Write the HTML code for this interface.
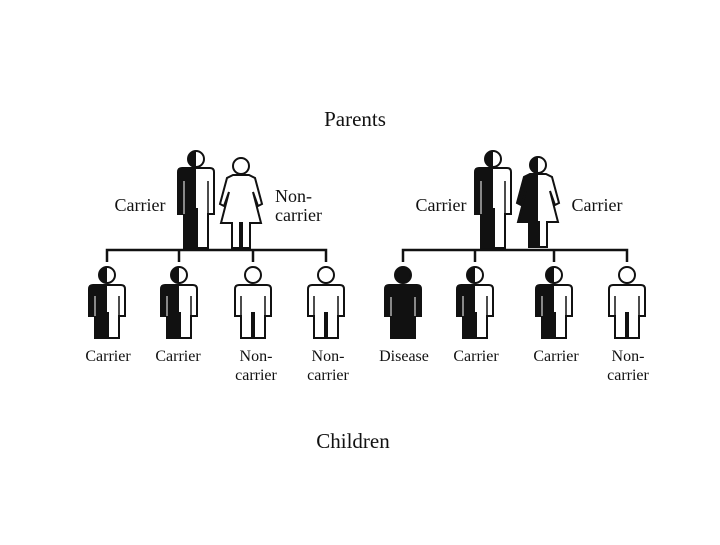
<!DOCTYPE html>
<html><head><style>
body{margin:0;background:#fff;width:720px;height:540px;overflow:hidden}
text{font-family:"Liberation Serif",serif;fill:#111}
</style></head><body>
<svg width="720" height="540" viewBox="0 0 720 540" xmlns="http://www.w3.org/2000/svg">
<defs>
<clipPath id="lh"><rect x="-40" y="-20" width="40" height="120"/></clipPath>
<path id="cm" d="M-14,10 H14 Q18,10 18,14 V41 H12 V63 H1 V38 H-1 V63 H-12 V41 H-18 V14 Q-18,10 -14,10 Z"/>
<path id="pm" d="M-14,9 H14 Q18,9 18,13 V55 H12 V89 H1 V50 H-1 V89 H-12 V55 H-18 V13 Q-18,9 -14,9 Z"/>
<path id="pf" d="M-8,9 H8 L14,12 L21,38 L17,40 L12,26 L20,57 H9 V82 H1 V57 H-1 V82 H-9 V57 H-20 L-12,26 L-17,40 L-21,38 L-14,12 Z"/>
<g id="childW"><use href="#cm" fill="#fff" stroke="#111" stroke-width="2"/><circle r="8" fill="#fff" stroke="#111" stroke-width="2"/><path d="M-12,21V41M12,21V41" stroke="#111" stroke-width="1.5"/></g>
<g id="childH"><use href="#cm" fill="#fff"/><g clip-path="url(#lh)"><use href="#cm" fill="#111"/><circle r="8" fill="#111"/></g><use href="#cm" fill="none" stroke="#111" stroke-width="2"/><circle r="8" fill="none" stroke="#111" stroke-width="2"/><path d="M12,21V41" stroke="#111" stroke-width="1.5"/><path d="M-12,21V41" stroke="#fff" stroke-width="1"/></g>
<g id="childB"><use href="#cm" fill="#111" stroke="#111" stroke-width="2"/><circle r="8" fill="#111" stroke="#111" stroke-width="2"/><path d="M-12,22V41M12,22V41" stroke="#fff" stroke-width="1"/></g>
<g id="parentH"><use href="#pm" fill="#fff"/><g clip-path="url(#lh)"><use href="#pm" fill="#111"/><circle r="8" fill="#111"/></g><use href="#pm" fill="none" stroke="#111" stroke-width="2"/><circle r="8" fill="none" stroke="#111" stroke-width="2"/><path d="M12,22V55" stroke="#111" stroke-width="1.5"/><path d="M-12,22V55" stroke="#fff" stroke-width="1"/></g>
<g id="femW"><use href="#pf" fill="#fff" stroke="#111" stroke-width="2"/><circle r="8" fill="#fff" stroke="#111" stroke-width="2"/></g>
<g id="femH"><use href="#pf" fill="#fff"/><g clip-path="url(#lh)"><use href="#pf" fill="#111"/><circle r="8" fill="#111"/></g><use href="#pf" fill="none" stroke="#111" stroke-width="2"/><circle r="8" fill="none" stroke="#111" stroke-width="2"/></g>
</defs>

<text x="355" y="126" font-size="21" text-anchor="middle">Parents</text>
<text x="353" y="448" font-size="21" text-anchor="middle">Children</text>

<!-- left family -->
<use href="#parentH" x="196" y="159"/>
<use href="#femW" x="241" y="166"/>
<text x="140" y="211" font-size="18" text-anchor="middle">Carrier</text>
<text x="275" y="202" font-size="18">Non-</text>
<text x="275" y="221" font-size="18">carrier</text>
<path d="M107,262V250H326V262M179,250V262M253,250V262" fill="none" stroke="#111" stroke-width="2.5"/>
<use href="#childH" x="107" y="275"/>
<use href="#childH" x="179" y="275"/>
<use href="#childW" x="253" y="275"/>
<use href="#childW" x="326" y="275"/>
<text x="108" y="361" font-size="16" text-anchor="middle">Carrier</text>
<text x="178" y="361" font-size="16" text-anchor="middle">Carrier</text>
<text x="256" y="361" font-size="16" text-anchor="middle">Non-</text>
<text x="256" y="380" font-size="16" text-anchor="middle">carrier</text>
<text x="328" y="361" font-size="16" text-anchor="middle">Non-</text>
<text x="328" y="380" font-size="16" text-anchor="middle">carrier</text>

<!-- right family -->
<use href="#parentH" x="493" y="159"/>
<use href="#femH" x="538" y="165"/>
<text x="441" y="211" font-size="18" text-anchor="middle">Carrier</text>
<text x="597" y="211" font-size="18" text-anchor="middle">Carrier</text>
<path d="M403,262V250H627V262M475,250V262M554,250V262" fill="none" stroke="#111" stroke-width="2.5"/>
<use href="#childB" x="403" y="275"/>
<use href="#childH" x="475" y="275"/>
<use href="#childH" x="554" y="275"/>
<use href="#childW" x="627" y="275"/>
<text x="404" y="361" font-size="16" text-anchor="middle">Disease</text>
<text x="476" y="361" font-size="16" text-anchor="middle">Carrier</text>
<text x="556" y="361" font-size="16" text-anchor="middle">Carrier</text>
<text x="628" y="361" font-size="16" text-anchor="middle">Non-</text>
<text x="628" y="380" font-size="16" text-anchor="middle">carrier</text>
</svg>
</body></html>
